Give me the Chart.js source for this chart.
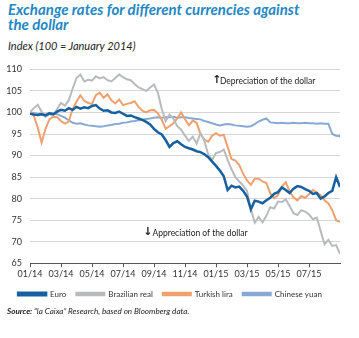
<!DOCTYPE html>
<html>
<head>
<meta charset="utf-8">
<script src="https://cdn.jsdelivr.net/npm/chart.js@4"></script>
<style>
  body { margin: 0; background: #fff; width: 359px; height: 338px; position: relative; overflow: hidden; font-family: "Lato", sans-serif; }
  #title { position: absolute; left: 8px; top: 2px; color: #2587c4; font-weight: bold; font-style: italic; font-size: 15px; line-height: 15px; }
  #subtitle { position: absolute; left: 8px; top: 39px; color: #222; font-style: italic; font-size: 11px; }
  #chartBox { position: absolute; left: 0; top: 56px; width: 359px; height: 252px; }
  #source { position: absolute; left: 7px; top: 306px; font-size: 8.1px; font-style: italic; color: #222; }
</style>
</head>
<body>
<div id="title">Exchange rates for different currencies against<br>the dollar</div>
<div id="subtitle">Index (100 = January 2014)</div>
<div id="chartBox"><canvas id="fxChart"></canvas></div>
<div id="source"><b>Source:</b> “la Caixa” Research, based on Bloomberg data.</div>
<script>
// x ticks every two months, data every quarter month from 01/14
const tickLabels = ["01/14", "03/14", "05/14", "07/14", "09/14", "11/14", "01/15", "03/15", "05/15", "07/15"];
const seriesNames = ["Euro", "Brazilian real", "Turkish lira", "Chinese yuan"];

const euro = [
  99.7, 99.5, 99.4, 99.6, 99.3, 99.8, 99.6, 100.2, 100.6, 100.4,
  101.0, 100.6, 101.3, 100.9, 101.2, 101.0, 101.5, 101.7, 100.9, 100.4,
  100.5, 100.0, 99.9, 100.2, 99.7, 99.2, 99.3, 98.9, 98.6, 98.3,
  97.8, 97.2, 96.2, 95.4, 94.9, 93.6, 92.0, 92.9, 93.3, 92.6,
  92.0, 91.7, 91.4, 91.0, 90.8, 90.3, 89.6, 88.6, 87.6, 86.5,
  85.2, 82.0, 83.0, 82.6, 82.8, 81.8, 80.5, 77.5, 79.5, 79.3,
  78.9, 79.6, 80.2, 81.1, 81.5, 82.6, 82.0, 81.3, 82.3, 82.9,
  82.7, 82.2, 81.8, 81.1, 81.3, 80.0, 80.5, 81.3, 81.8, 85.0,
  82.7
];
const real = [
  100.0, 101.0, 101.8, 100.2, 99.0, 99.6, 99.2, 100.8, 102.2, 101.6,
  102.8, 105.5, 108.0, 108.8, 107.2, 107.6, 107.4, 108.4, 107.9, 108.2,
  107.5, 107.2, 108.0, 108.8, 108.2, 107.7, 107.5, 106.6, 105.8, 105.4,
  105.0, 105.8, 106.5, 104.6, 100.8, 98.0, 99.5, 98.6, 96.8, 96.0,
  94.6, 93.4, 94.4, 92.8, 95.2, 93.4, 90.2, 89.0, 90.6, 90.8,
  91.4, 89.0, 86.8, 85.0, 84.0, 83.0, 81.8, 77.5, 74.4, 75.8,
  74.5, 76.0, 78.0, 77.7, 79.3, 79.2, 79.8, 78.3, 76.6, 76.2,
  77.3, 77.0, 76.3, 75.2, 75.6, 72.5, 69.4, 70.4, 69.0, 69.2,
  67.2
];
const lira = [
  100.3, 99.2, 96.5, 93.0, 96.2, 98.4, 99.0, 98.9, 98.0, 97.4,
  97.9, 100.8, 102.5, 104.0, 102.7, 102.2, 102.0, 104.0, 104.6, 103.4,
  104.2, 102.8, 102.1, 103.0, 101.7, 102.0, 102.2, 102.6, 101.3, 100.4,
  100.0, 100.5, 100.6, 99.8, 98.3, 96.2, 96.8, 97.5, 98.6, 100.0,
  98.4, 97.0, 98.1, 97.6, 95.0, 93.7, 93.2, 94.6, 95.2, 94.6,
  94.8, 92.0, 89.2, 88.8, 87.8, 85.8, 84.2, 83.2, 84.6, 84.6,
  84.0, 83.6, 81.2, 80.1, 80.8, 82.8, 83.8, 81.6, 80.3, 79.6,
  80.6, 80.2, 81.0, 82.0, 81.4, 80.8, 79.6, 78.9, 77.3, 75.0,
  74.6
];
const yuan = [
  99.7, 99.9, 99.6, 99.8, 99.5, 99.9, 99.7, 99.6, 99.2, 98.8,
  98.2, 97.6, 97.4, 97.5, 97.2, 97.0, 96.9, 96.8, 96.7, 96.8,
  97.0, 97.1, 97.3, 97.4, 97.6, 97.7, 97.9, 98.0, 98.2, 98.3,
  98.5, 98.6, 98.8, 98.9, 98.8, 98.9, 98.9, 99.0, 98.8, 98.9,
  98.9, 98.7, 98.6, 98.5, 98.4, 98.0, 97.8, 97.5, 97.2, 97.0,
  97.2, 97.3, 97.2, 97.0, 96.9, 96.8, 96.7, 96.8, 97.3, 97.9,
  98.3, 98.6, 97.7, 97.6, 97.5, 97.6, 97.5, 97.5, 97.6, 97.5,
  97.5, 97.6, 97.5, 97.5, 97.4, 97.5, 97.4, 97.4, 95.0, 94.6,
  94.5
];

const toPoints = vals => vals.map((v, i) => ({ x: i * 0.25, y: v }));

// arrow notes inside the plot
const notesPlugin = {
  id: "notes",
  afterDatasetsDraw(chart) {
    const { ctx, scales: { x, y } } = chart;
    ctx.save();
    ctx.fillStyle = "#222";
    ctx.textBaseline = "middle";
    ctx.font = "bold 11px 'DejaVu Sans'";
    ctx.fillText("↑", x.getPixelForValue(11.75), y.getPixelForValue(107.4));
    ctx.fillText("↓", x.getPixelForValue(7.3), y.getPixelForValue(72.2));
    ctx.font = "8.5px Lato";
    ctx.fillText("Depreciation of the dollar", x.getPixelForValue(12.25), y.getPixelForValue(107.2));
    ctx.fillText("Appreciation of the dollar", x.getPixelForValue(7.9), y.getPixelForValue(72.0));
    ctx.restore();
  }
};

const colors = ["#17609f", "#b8bbbd", "#f0a06e", "#87a9d4"];
const widths = [2.5, 2, 2, 2];

new Chart(document.getElementById("fxChart"), {
  type: "line",
  data: {
    datasets: [euro, real, lira, yuan].map((vals, i) => ({
      label: seriesNames[i],
      data: toPoints(vals),
      borderColor: colors[i],
      backgroundColor: colors[i],
      borderWidth: widths[i],
      pointRadius: 0,
      tension: 0
    }))
  },
  options: {
    responsive: true,
    maintainAspectRatio: false,
    animation: false,
    layout: { padding: { top: 7, right: 19, left: 0, bottom: 0 } },
    plugins: {
      legend: {
        position: "bottom",
        labels: {
          boxWidth: 28,
          boxHeight: 2.5,
          padding: 10,
          color: "#333",
          font: { family: "Lato", size: 8 }
        }
      },
      tooltip: { enabled: false }
    },
    scales: {
      x: {
        type: "linear",
        min: 0,
        max: 20,
        afterBuildTicks: scale => {
          scale.ticks = scale.ticks.filter(t => t.value <= 18);
        },
        ticks: {
          stepSize: 2,
          padding: 1,
          maxRotation: 0,
          color: "#333",
          font: { family: "Lato", size: 9 },
          callback: v => tickLabels[v / 2]
        },
        grid: { drawOnChartArea: false, drawTicks: true, tickLength: 4, color: "#555" },
        border: { display: true, color: "#555", width: 1 }
      },
      y: {
        min: 65,
        max: 110,
        afterFit: scale => { scale.width = 30; },
        ticks: {
          stepSize: 5,
          padding: 8,
          color: "#333",
          font: { family: "Lato", size: 9 }
        },
        grid: { color: "#d6d6d6", drawTicks: false },
        border: { display: false }
      }
    }
  },
  plugins: [notesPlugin]
});
</script>
</body>
</html>
